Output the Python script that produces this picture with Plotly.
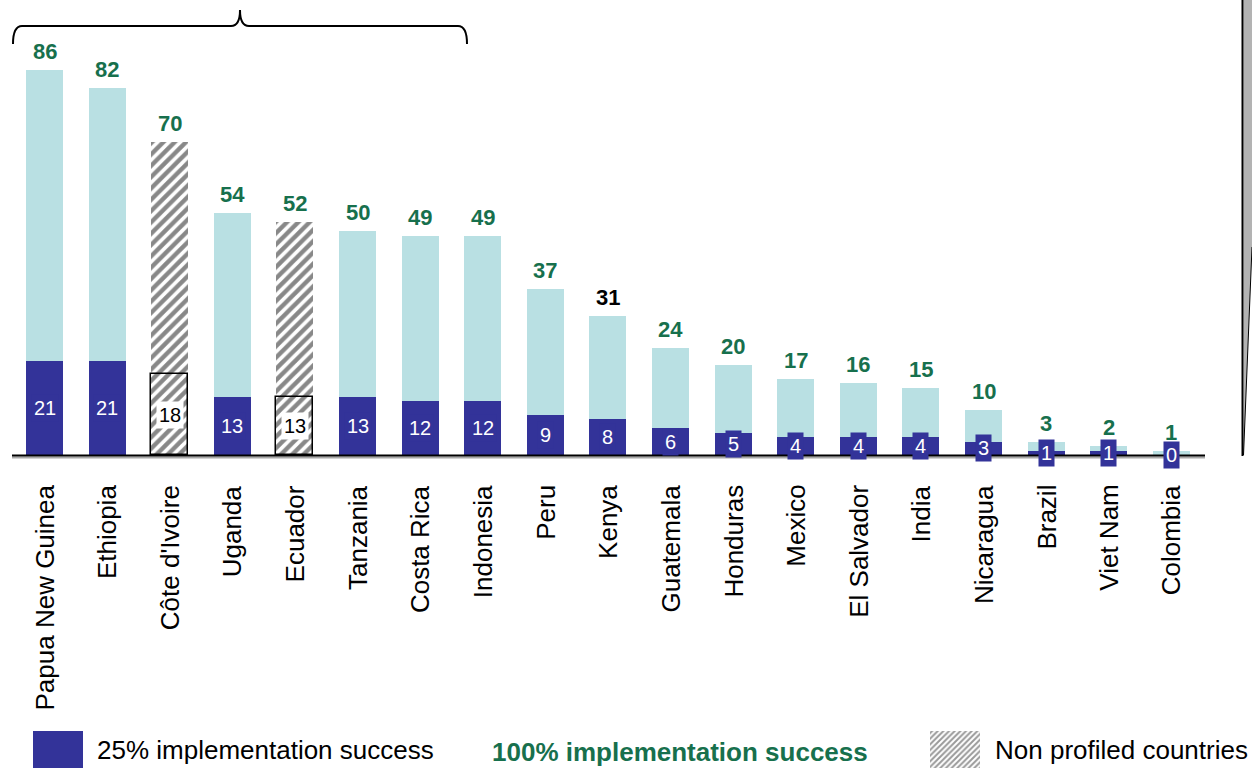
import plotly.graph_objects as go

# --- data -------------------------------------------------------------
countries = [
    "Papua New Guinea", "Ethiopia", "Côte d'Ivoire", "Uganda", "Ecuador",
    "Tanzania", "Costa Rica", "Indonesia", "Peru", "Kenya", "Guatemala",
    "Honduras", "Mexico", "El Salvador", "India", "Nicaragua", "Brazil",
    "Viet Nam", "Colombia",
]
full_success = [86, 82, 70, 54, 52, 50, 49, 49, 37, 31, 24, 20, 17, 16, 15, 10, 3, 2, 1]
quarter_success = [21, 21, 18, 13, 13, 13, 12, 12, 9, 8, 6, 5, 4, 4, 4, 3, 1, 1, 0]
non_profiled = ["Côte d'Ivoire", "Ecuador"]

# --- styling ------------------------------------------------------------
DARK = "#333399"
LIGHT = "#b9e0e3"
GREEN = "#17704d"
FONT = "Liberation Sans, Arial, sans-serif"
W, H = 1252, 770
BAR_W = 0.59

x = list(range(len(countries)))
is_np = [c in non_profiled for c in countries]

fig = go.Figure()

# totals (light) for profiled countries
fig.add_bar(
    x=x, y=[None if n else v for v, n in zip(full_success, is_np)],
    width=BAR_W, marker=dict(color=LIGHT, line=dict(width=0)),
    showlegend=False, hoverinfo="skip",
)
# totals (hatched) for non profiled countries
hatch = dict(shape="/", fgcolor="#111111", bgcolor="white", size=8, solidity=0.55)
fig.add_bar(
    x=x, y=[v if n else None for v, n in zip(full_success, is_np)],
    width=BAR_W, marker=dict(color="white", pattern=hatch, line=dict(width=0)),
    showlegend=False, hoverinfo="skip",
)
# 25% implementation success (dark) for profiled countries
fig.add_bar(
    x=x, y=[None if n else v for v, n in zip(quarter_success, is_np)],
    width=BAR_W, marker=dict(color=DARK, line=dict(width=0)),
    showlegend=False, hoverinfo="skip",
)
# 25% implementation success for non profiled countries (outlined hatch)
fig.add_bar(
    x=x, y=[v if n else None for v, n in zip(quarter_success, is_np)],
    width=BAR_W, marker=dict(color="white", pattern=hatch, line=dict(width=1.5, color="black")),
    showlegend=False, hoverinfo="skip",
)

# full-page pixel helper axes for decorations: hatched legend swatch
fig.add_scatter(
    x=[930, 980, 980, 930, 930], y=[731, 731, 768, 768, 731],
    xaxis="x2", yaxis="y2", mode="lines", line=dict(width=0),
    fill="toself", fillcolor="white",
    fillpattern=dict(shape="/", fgcolor="#333333", bgcolor="white", size=4, solidity=0.5),
    showlegend=False, hoverinfo="skip",
)

annotations = []
for i, (c, tot, q, n) in enumerate(zip(countries, full_success, quarter_success, is_np)):
    # total value above the bar
    annotations.append(dict(
        x=i, y=tot, xref="x", yref="y", text=f"<b>{tot}</b>", showarrow=False,
        yanchor="bottom", yshift=4,
        font=dict(family=FONT, size=22, color="black" if c == "Kenya" else GREEN),
    ))
    # value inside the lower bar
    annotations.append(dict(
        x=i, y=q / 2, xref="x", yref="y", text=str(q), showarrow=False,
        yanchor="middle", borderpad=2,
        bgcolor="white" if n else DARK,
        font=dict(family=FONT, size=20, color="black" if n else "white"),
    ))
    # category name
    annotations.append(dict(
        x=i, y=483, xref="x", yref="y2", text=c, showarrow=False, textangle=-90,
        xanchor="center", yanchor="top",
        font=dict(family=FONT, size=26, color="black"),
    ))

# legend texts
annotations += [
    dict(x=95, y=750, xref="x2", yref="y2", text="25% implementation success",
         showarrow=False, xanchor="left", yanchor="middle",
         font=dict(family=FONT, size=26, color="black")),
    dict(x=680, y=752, xref="x2", yref="y2", text="<b>100% implementation success</b>",
         showarrow=False, xanchor="center", yanchor="middle",
         font=dict(family=FONT, size=26, color=GREEN)),
    dict(x=993, y=750, xref="x2", yref="y2", text="Non profiled countries",
         showarrow=False, xanchor="left", yanchor="middle",
         font=dict(family=FONT, size=26, color="black")),
]

shapes = [
    # baseline with soft shadow
    dict(type="line", xref="x2", yref="y2", x0=12, x1=1205, y0=457.5, y1=457.5,
         line=dict(color="#a8a8a8", width=2)),
    dict(type="line", xref="x2", yref="y2", x0=12, x1=1205, y0=455.5, y1=455.5,
         line=dict(color="black", width=2)),
    # brace over the first group of countries
    dict(type="path", xref="x2", yref="y2",
         path="M 13,44 Q 13,26 22,26 L 231,26 Q 240,26 240,10 Q 240,26 249,26 "
              "L 458,26 Q 467,26 467,44",
         line=dict(color="black", width=2)),
    # callout edge on the right
    dict(type="path", xref="x2", yref="y2",
         path="M 1243.5,0 L 1252,0 L 1252,247 L 1243.5,455 Z",
         fillcolor="#b3b3b3", line=dict(width=0)),
    dict(type="line", xref="x2", yref="y2", x0=1252, x1=1243.5, y0=247, y1=455,
         line=dict(color="black", width=1)),
    dict(type="line", xref="x2", yref="y2", x0=1242.5, x1=1242.5, y0=0, y1=456,
         line=dict(color="black", width=2)),
    # legend swatch
    dict(type="rect", xref="x2", yref="y2", x0=33, x1=83, y0=731, y1=768,
         fillcolor=DARK, line=dict(width=0)),
]

# axis ranges: bar centres every 62.6 px starting at 44.5 px; 4.477 px per unit, zero at 455 px
PX_PER_CAT = 62.6
X0_PX = 44.5
PX_PER_UNIT = 4.477
ZERO_PX = 455

fig.update_layout(
    width=W, height=H, margin=dict(l=0, r=0, t=0, b=0),
    paper_bgcolor="white", plot_bgcolor="rgba(0,0,0,0)",
    barmode="overlay", bargap=0,
    xaxis=dict(range=[-X0_PX / PX_PER_CAT, (W - X0_PX) / PX_PER_CAT],
               visible=False, fixedrange=True),
    yaxis=dict(range=[(ZERO_PX - H) / PX_PER_UNIT, ZERO_PX / PX_PER_UNIT],
               visible=False, fixedrange=True),
    xaxis2=dict(range=[0, W], overlaying="x", visible=False, fixedrange=True),
    yaxis2=dict(range=[H, 0], overlaying="y", visible=False, fixedrange=True),
    annotations=annotations, shapes=shapes,
    font=dict(family=FONT),
)

fig.write_html("out.html")
